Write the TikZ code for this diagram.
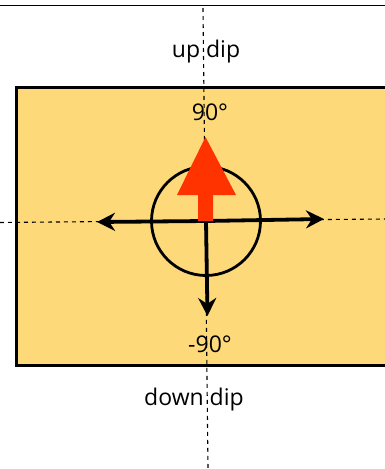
\documentclass[tikz,border=0pt]{standalone}
\usepackage{fontspec}
\setmainfont{Open Sans}
\usetikzlibrary{arrows.meta}
\definecolor{panel}{HTML}{FDD97A}
\definecolor{redarrow}{HTML}{FF3300}
\tikzset{
  guide/.style={black, line width=1.1pt, dash pattern=on 4pt off 4pt},
  blackarrow/.style={black, line width=3.8pt, -{Stealth[length=18pt,width=18pt]}},
  lbl/.style={font=\fontsize{23}{26}\selectfont, inner sep=0pt, anchor=base}
}
\begin{document}
\begin{tikzpicture}[x=1pt,y=-1pt]
\useasboundingbox (0,0) rectangle (385,469);
\clip (0,0) rectangle (385,469);
\draw[line width=1.5pt] (0,5.5) -- (385,5.5);
\node[draw=black, line width=3pt, fill=panel, minimum width=385pt, minimum height=278pt, anchor=north west, inner sep=0pt] (panel) at (15,86) {};
\node[lbl] (up) at (206,57) {up dip};
\node[lbl] (n90) at (210,120) {90°};
\node[lbl] (m90) at (210,352) {-90°};
\node[lbl] (down) at (194,405) {down dip};
\coordinate (vt) at (203,8);
\coordinate (vb) at (208,469);
\coordinate (hl) at (0,222.5);
\coordinate (hr) at (385,219);
\draw[guide] (vt) -- (vb);
\draw[guide] (hl) -- (hr);
\coordinate (c) at (206,221);
\node[draw=black, line width=2.8pt, circle, minimum size=109pt, inner sep=0pt] (circ) at (c) {};
\coordinate (tl) at (97,222);
\coordinate (tr) at (324,219);
\coordinate (tb) at (207.5,316);
\draw[blackarrow] (c) -- (tl);
\draw[blackarrow] (c) -- (tr);
\draw[blackarrow] (c) -- (tb);
\fill[redarrow] (198,221) -- (198,195) -- (177,195) -- (205.5,137) -- (236,195) -- (213,195) -- (213,221) -- cycle;
\end{tikzpicture}
\end{document}
